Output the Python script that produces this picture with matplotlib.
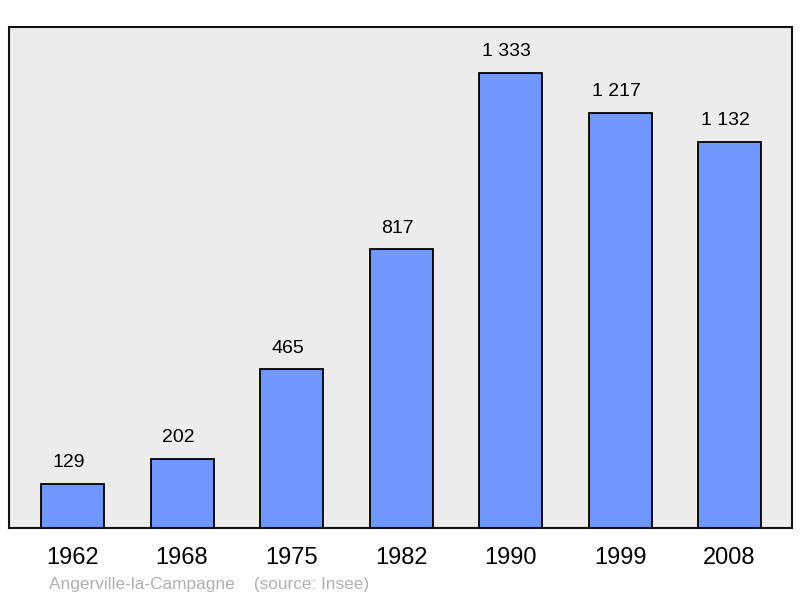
import matplotlib
matplotlib.use("Agg")
import matplotlib.pyplot as plt

years = ["1962", "1968", "1975", "1982", "1990", "1999", "2008"]
population = [129, 202, 465, 817, 1333, 1217, 1132]
value_labels = ["129", "202", "465", "817", "1 333", "1 217", "1 132"]

plt.rcParams['font.family'] = ['Liberation Sans', 'DejaVu Sans']

fig = plt.figure(figsize=(8, 5.98), dpi=100)
ax = fig.add_axes([9/800, 70/598, 783/800, 501/598])
ax.set_facecolor('#ececec')

x = list(range(len(years)))
ax.bar(x, population, width=0.575, color='#7097ff', edgecolor='black', linewidth=1.3, zorder=2)
for xi, v, lab in zip(x, population, value_labels):
    ax.text(xi - 0.035, v + 62, lab, ha='center', va='center', fontsize=14, color='black')

ax.set_xlim(-0.58, 6.57)
ax.set_ylim(0, 1468)
ax.set_yticks([])
ax.set_xticks(x)
ax.set_xticklabels(years, fontsize=17)
ax.tick_params(axis='x', length=0, pad=14)
for s in ax.spines.values():
    s.set_linewidth(1.5)
    s.set_color('#111111')

fig.text(49/800, 1 - 585/598, "Angerville-la-Campagne    (source: Insee)", fontsize=12.4,
         color='#b0b0b0', ha='left', va='center')

fig.savefig('out.png', dpi=100)
